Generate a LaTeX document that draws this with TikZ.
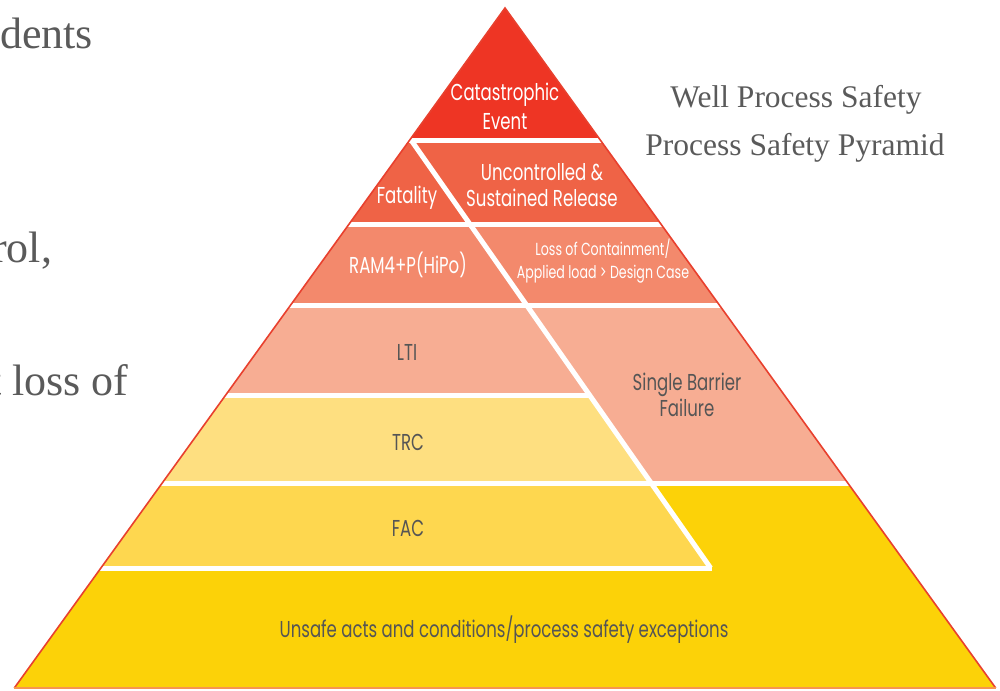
\documentclass[tikz,border=0pt]{standalone}
\usepackage{fontspec}
\setmainfont{Liberation Serif}
\newfontfamily\fut[FakeStretch=0.72]{Poppins}
\definecolor{cRed}{HTML}{EE3524}
\definecolor{cB2}{HTML}{EF6346}
\definecolor{cB3}{HTML}{F3896C}
\definecolor{cB4}{HTML}{F7AD93}
\definecolor{cTRC}{HTML}{FEDF80}
\definecolor{cFAC}{HTML}{FED74F}
\definecolor{cBase}{HTML}{FCD208}
\definecolor{cEdge}{HTML}{E8402E}
\definecolor{cBottom}{HTML}{F7954F}
\definecolor{txtgray}{HTML}{555555}
\definecolor{sidegray}{HTML}{5A5A5A}
\begin{document}
\begin{tikzpicture}[x=1pt,y=-1pt,
  sep/.style={white,line width=5pt},
  lbl/.style={inner sep=0pt,align=center,text=txtgray,font=\fut\fontsize{23}{26}\selectfont},
  wlbl/.style={lbl,text=white},
  side/.style={inner sep=0pt,anchor=base west,text=sidegray,font=\fontsize{44}{50}\selectfont},
  ttl/.style={inner sep=0pt,anchor=base,text=sidegray,font=\fontsize{31.5}{36}\selectfont}]
\useasboundingbox (0,0) rectangle (1000,690);
% corners
\coordinate (A) at (505,8);
\coordinate (BL) at (14.3,688);
\coordinate (BR) at (995.7,688);
% base fill
\fill[cBase] (A) -- (BR) -- (BL) -- cycle;
% regions
\fill[cRed] (A) -- (600.25,140) -- (409.75,140) -- cycle;
\fill[cB2] (409.75,140) -- (600.25,140) -- (660.9,224) -- (349.1,224) -- cycle;
\fill[cB3] (349.1,224) -- (660.9,224) -- (719.3,305) -- (290.7,305) -- cycle;
\fill[cB4] (290.7,305) -- (719.3,305) -- (847.8,483) -- (651.1,483) -- (589.5,395) -- (225.7,395) -- cycle;
\fill[cTRC] (225.7,395) -- (589.5,395) -- (651.1,483) -- (162.2,483) -- cycle;
\fill[cFAC] (162.2,483) -- (651.1,483) -- (710.6,568) -- (100.9,568) -- cycle;
% separators
\begin{scope}
\clip (A) -- (BR) -- (BL) -- cycle;
\draw[sep] (400,140) -- (610,140);
\draw[sep] (340,224) -- (670,224);
\draw[sep] (280,305) -- (730,305);
\draw[sep] (215,395) -- (589.5,395);
\draw[sep] (150,483) -- (860,483);
\draw[sep] (90,568) -- (712,568);
\draw[sep] (411,140) -- (710.6,568);
\end{scope}
% outline
\draw[cEdge,line width=1.6pt,line join=miter] (BL) -- (A) -- (BR);
\draw[cBottom,line width=1.6pt] (BL) -- (BR);
% labels
\node[wlbl,font=\fut\fontsize{23}{29}\selectfont] (cat) at (505,106.5) {Catastrophic\\Event};
\node[wlbl] (unc) at (542,185) {Uncontrolled \&\\Sustained Release};
\node[wlbl] (fat) at (407,198) {Fatality};
\node[wlbl] (ram) at (408,265) {RAM4+P(HiPo)};
\node[wlbl,font=\fut\fontsize{17.5}{23}\selectfont] (loc) at (603,261.5) {Loss of Containment/\\Applied load > Design Case};
\node[lbl] (lti) at (407,352) {LTI};
\node[lbl] (sbf) at (687,395) {Single Barrier\\Failure};
\node[lbl] (trc) at (408,442) {TRC};
\node[lbl] (fac) at (408,528) {FAC};
\node[lbl] (usa) at (504,630) {Unsafe acts and conditions/process safety exceptions};
% side texts
\node[side] (s1) at (0,49) {dents};
\node[side] (s2) at (-8,262) {rol,};
\node[side] (s3) at (-11,395) {t loss of};
\node[ttl] (t1) at (796,107) {Well Process Safety};
\node[ttl] (t2) at (795,155) {Process Safety Pyramid};
\end{tikzpicture}
\end{document}
